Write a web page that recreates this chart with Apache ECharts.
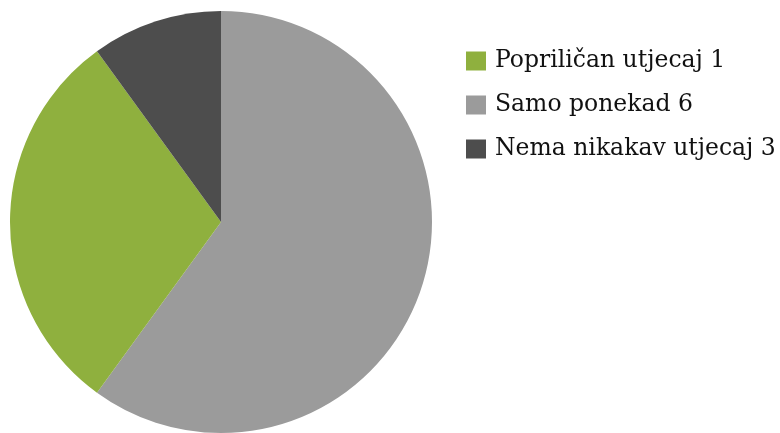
<!DOCTYPE html>
<html><head><meta charset="utf-8">
<script src="https://cdn.jsdelivr.net/npm/echarts@6/dist/echarts.min.js"></script>
<style>html,body{margin:0;padding:0;background:#fff}#c{width:780px;height:433px}</style>
</head><body><div id="c"></div>
<script>
const sliceNames = ['Samo ponekad 6', 'Popriličan utjecaj 1', 'Nema nikakav utjecaj 3'];
const sliceValues = [6, 3, 1];
const sliceColors = ['#9b9b9b', '#8fb03e', '#4d4d4d'];
const legendOrder = ['Popriličan utjecaj 1', 'Samo ponekad 6', 'Nema nikakav utjecaj 3'];

const chart = echarts.init(document.getElementById('c'), null, {renderer: 'canvas'});
chart.setOption({
  animation: false,
  legend: {
    data: legendOrder,
    orient: 'vertical',
    left: 466, top: 49, padding: 0,
    itemWidth: 20, itemHeight: 19, itemGap: 20,
    icon: 'rect',
    textStyle: {fontFamily: 'DejaVu Serif', fontSize: 23.5, lineHeight: 19, color: '#111', padding: [0,0,0,4]}
  },
  series: [{
    type: 'pie',
    center: [221, 222],
    radius: 211,
    startAngle: 90,
    clockwise: true,
    label: {show: false},
    labelLine: {show: false},
    itemStyle: {borderColor: '#fff', borderWidth: 0},
    data: sliceNames.map((n, i) => ({name: n, value: sliceValues[i], itemStyle: {color: sliceColors[i]}}))
  }]
});
</script></body></html>
